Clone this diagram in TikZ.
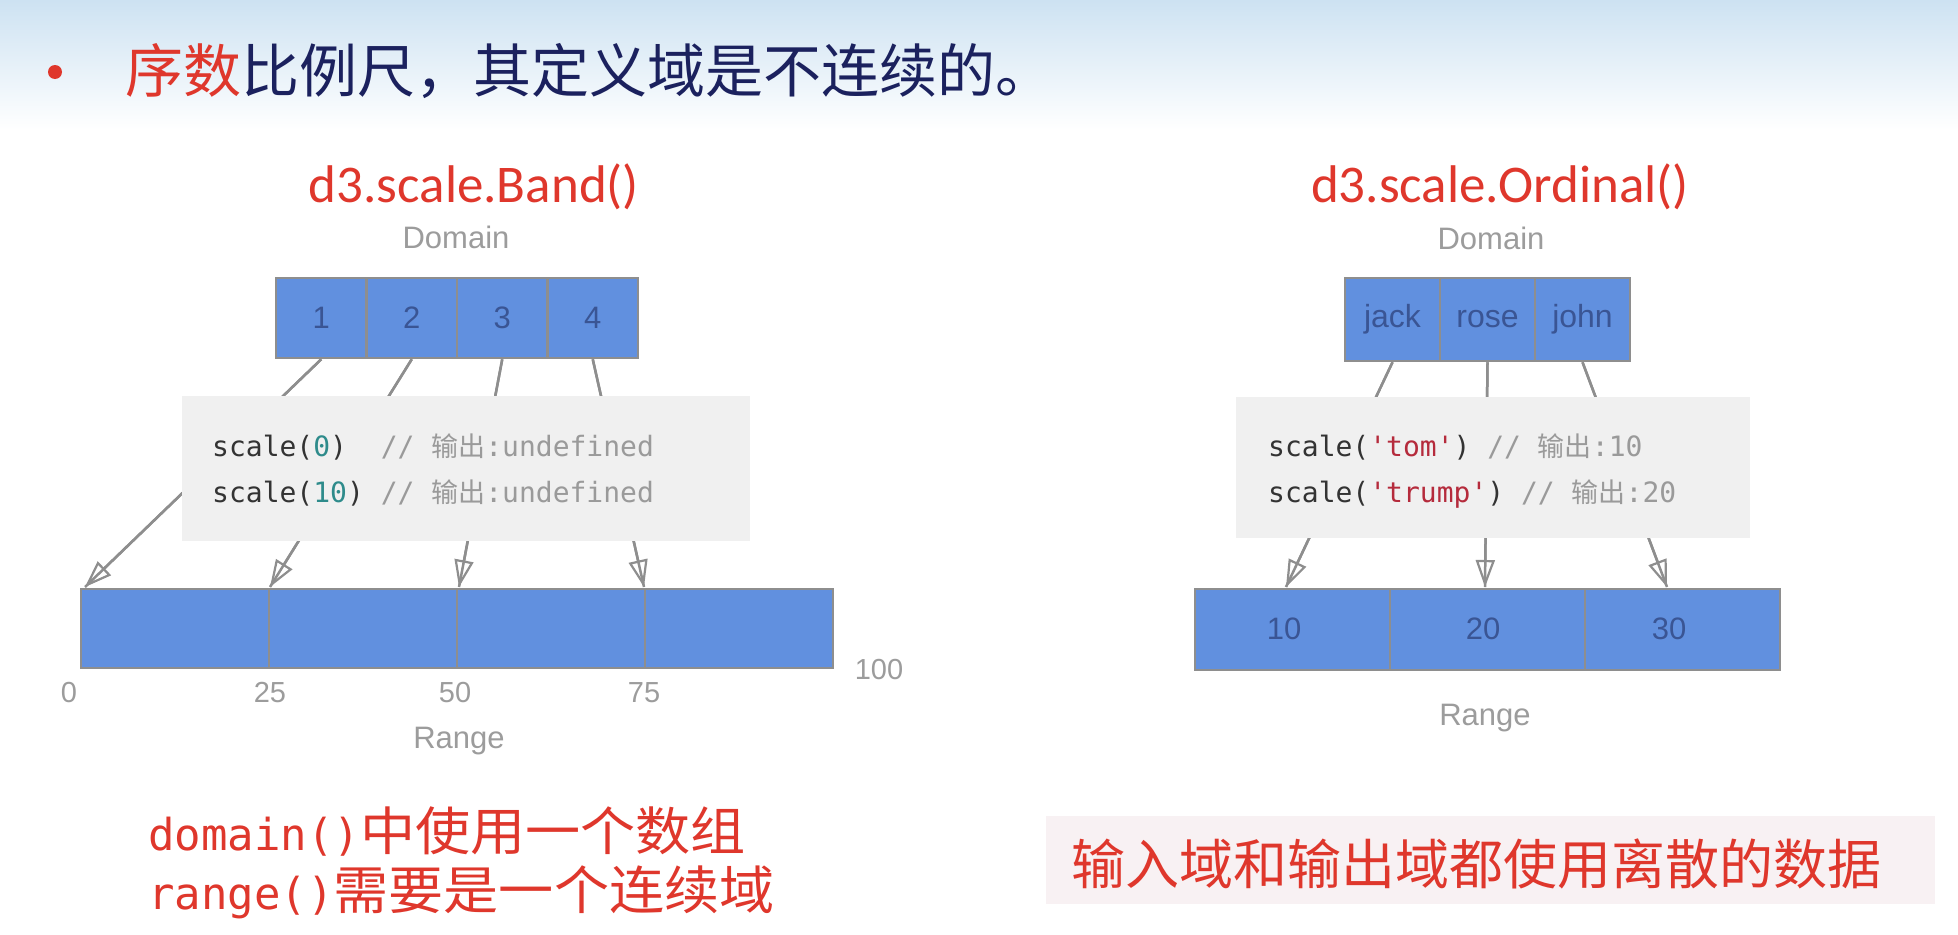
\documentclass[tikz,border=0pt]{standalone}
\usepackage{fontspec}
\setmainfont{Liberation Sans}
\newfontfamily\cjk{Noto Sans CJK SC}
\newfontfamily\cjkwide[FakeStretch=1.06]{Noto Sans CJK SC}
\newfontfamily\calib{Carlito}
\newfontfamily\codemono{DejaVu Sans Mono}
\usetikzlibrary{arrows.meta}

\definecolor{hdrblue}{HTML}{CDE2F2}
\definecolor{titlered}{HTML}{DF372C}
\definecolor{navy}{HTML}{1B215E}
\definecolor{cellblue}{HTML}{6190DF}
\definecolor{cellline}{HTML}{8E8E8E}
\definecolor{celltext}{HTML}{3A5594}
\definecolor{labelgray}{HTML}{9C9C9C}
\definecolor{codebg}{HTML}{F0F0F0}
\definecolor{codeink}{HTML}{333333}
\definecolor{codenum}{HTML}{2E8B8B}
\definecolor{codestr}{HTML}{B52B3C}
\definecolor{codecmt}{HTML}{9A9A9A}
\definecolor{notebg}{HTML}{F8F1F3}

\newcommand{\fsz}[1]{\fontsize{#1}{#1}\selectfont}
\newcommand{\lowered}[1]{\raisebox{-4pt}{#1}}

\begin{document}
\begin{tikzpicture}[x=1pt,y=-1pt,
  domcell/.style={draw=cellline, line width=2.5pt, fill=cellblue, text=celltext,
    inner sep=0pt, font=\fsz{31}},
  shaft/.style={draw=cellline, line width=2.5pt},
  conn/.style={draw=cellline, line width=2.5pt,
    -{Triangle[open,length=27pt,width=19pt,line width=2.2pt]}},
  axiscap/.style={text=labelgray, font=\fsz{31}, inner sep=0pt},
  ticklabel/.style={text=labelgray, font=\fsz{29}, inner sep=0pt},
  rangelabel/.style={text=celltext, font=\fsz{31}, inner sep=0pt},
  heading/.style={text=titlered, font=\calib\fsz{53}, inner sep=0pt},
  codebox/.style={fill=codebg, draw=none, inner sep=0pt, anchor=north west},
  codeline/.style={anchor=base west, inner sep=0pt, font=\codemono\fsz{28}, text=codeink},
  notetext/.style={text=titlered, inner sep=0pt, anchor=west}
]
\useasboundingbox (0,0) rectangle (1958,934);
\fill[white] (0,0) rectangle (1958,934);

% header band and bullet title
\shade[top color=hdrblue, bottom color=white] (0,0) rectangle (1958,130);
\fill[titlered] (55,72) circle (7pt);
\node[anchor=west, inner sep=0pt, font=\cjk\fsz{58}] (title) at (125,71)
  {\textcolor{titlered}{序数}\textcolor{navy}{比例尺，其定义域是不连续的。}};

% ---------------- band scale ----------------
\node[heading] (bandname) at (474,187) {d3.scale.Band()};
\node[axiscap] (bdomain) at (456,237) {Domain};

\foreach \i/\cx in {1/321.25, 2/411.75, 3/502.25, 4/592.75}
  \node[domcell, minimum width=90.5, minimum height=80] (b\i) at (\cx,318) {\lowered{\i}};

\foreach \i/\cx in {1/175, 2/363, 3/551, 4/739}
  \node[domcell, minimum width=188, minimum height=79] (br\i) at (\cx,628.5) {};

\coordinate (bt0) at (85,587);
\coordinate (bt1) at (270,587);
\coordinate (bt2) at (459,587);
\coordinate (bt3) at (644,587);

\foreach \s/\t in {b1/bt0, b2/bt1, b3/bt2, b4/bt3} {
  \draw[shaft] (\s.south) -- (\t);
  \draw[conn] (\s.south) -- (\t);
}

\node[codebox, minimum width=568, minimum height=145] (bcode) at (182,396) {};
\node[codeline] (bcl1) at (212,456)
  {scale(\textcolor{codenum}{0})~~\textcolor{codecmt}{// {\cjk\fsz{27}输出}:undefined}};
\node[codeline] (bcl2) at (212,502)
  {scale(\textcolor{codenum}{10})~\textcolor{codecmt}{// {\cjk\fsz{27}输出}:undefined}};

\node[ticklabel] (bl0) at (69,693) {0};
\node[ticklabel] (bl25) at (270,693) {25};
\node[ticklabel] (bl50) at (455,693) {50};
\node[ticklabel] (bl75) at (644,693) {75};
\node[ticklabel] (bl100) at (879,670) {100};
\node[axiscap] (brange) at (459,741) {Range};

% ---------------- ordinal scale ----------------
\node[heading] (ordname) at (1500,187) {d3.scale.Ordinal()};
\node[axiscap] (odomain) at (1491,238) {Domain};

\foreach \i/\cx/\t in {1/1392.5/jack, 2/1487.5/rose, 3/1582.5/john}
  \node[domcell, font=\fsz{32}, minimum width=95, minimum height=83] (o\i) at (\cx,319.5) {\lowered{\t}};

\foreach \i/\cx in {1/1292.5, 2/1487.5, 3/1682.5}
  \node[domcell, minimum width=195, minimum height=81] (or\i) at (\cx,629.5) {};

\node[rangelabel] (ol1) at (1284,629) {10};
\node[rangelabel] (ol2) at (1483,629) {20};
\node[rangelabel] (ol3) at (1669,629) {30};

\coordinate (ot1) at (1286,587);
\coordinate (ot2) at (1485,587);
\coordinate (ot3) at (1667,587);

\foreach \s/\t in {o1/ot1, o2/ot2, o3/ot3} {
  \draw[shaft] (\s.south) -- (\t);
  \draw[conn] (\s.south) -- (\t);
}

\node[codebox, minimum width=514, minimum height=141] (ocode) at (1236,397) {};
\node[codeline] (ocl1) at (1268,456)
  {scale(\textcolor{codestr}{'tom'})~\textcolor{codecmt}{// {\cjk\fsz{27}输出}:10}};
\node[codeline] (ocl2) at (1268,502)
  {scale(\textcolor{codestr}{'trump'})~\textcolor{codecmt}{// {\cjk\fsz{27}输出}:20}};

\node[axiscap] (orange) at (1485,718) {Range};

% ---------------- notes ----------------
\node[notetext] (note1) at (148,831)
  {{\codemono\fsz{44}domain()}{\cjkwide\fsz{52}中使用一个数组}};
\node[notetext] (note2) at (148,892)
  {{\codemono\fsz{44}range()}{\cjkwide\fsz{52}需要是一个连续域}};

\node[fill=notebg, inner sep=0pt, minimum width=889, minimum height=88,
  anchor=north west] (notebox) at (1046,816) {};
\node[notetext, font=\cjk\fsz{54}] (note3) at (1071,864) {输入域和输出域都使用离散的数据};
\end{tikzpicture}
\end{document}
